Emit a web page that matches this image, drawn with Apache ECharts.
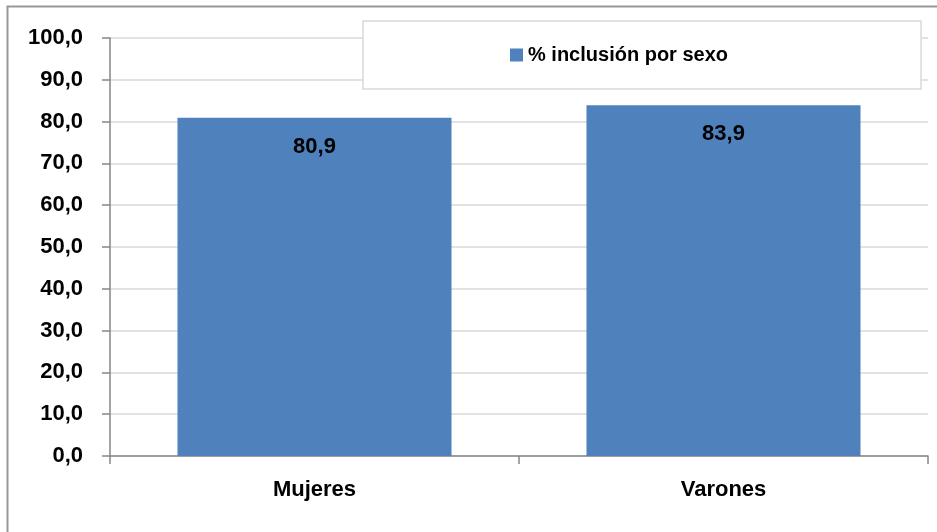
<!DOCTYPE html>
<html>
<head>
<meta charset="utf-8">
<script src="https://cdn.jsdelivr.net/npm/echarts@6/dist/echarts.min.js"></script>
<style>html,body{margin:0;padding:0;background:#fff}#c{width:937px;height:532px}</style>
</head>
<body>
<div id="c"></div>
<script>
var categories = ['Mujeres', 'Varones'];
var seriesName = '% inclusión por sexo';
var values = [80.9, 83.9];
var yMin = 0, yMax = 100, yStep = 10;

function fmt(v){ return Number(v).toFixed(1).replace('.', ','); }

var chart = echarts.init(document.getElementById('c'), null, {renderer:'canvas'});
var FONT = '"Liberation Sans", Arial, sans-serif';
chart.setOption({
  animation: false,
  backgroundColor: '#fff',
  graphic: [{
    type: 'rect', left: 5, top: 4, silent: true,
    shape: {x: 0, y: 0, width: 1000, height: 1000},
    style: {fill: 'none', stroke: '#979797', lineWidth: 2}
  }],
  grid: {left: 110, right: 9, top: 38, bottom: 76, containLabel: false},
  legend: {
    left: 363, top: 21,
    padding: [24, 193, 24, 147],
    borderColor: '#d9d9d9', borderWidth: 1.5, backgroundColor: '#fff',
    itemWidth: 13, itemHeight: 13, icon: 'rect',
    textStyle: {fontFamily: FONT, fontWeight: 'bold', fontSize: 20, color: '#000'},
    data: [seriesName]
  },
  xAxis: {
    type: 'category', data: categories,
    axisLine: {lineStyle: {color: '#868686', width: 1.5}},
    axisTick: {show: true, length: 8, lineStyle: {color: '#868686', width: 1.5}},
    axisLabel: {fontFamily: FONT, fontWeight: 'bold', fontSize: 22, color: '#000', margin: 23}
  },
  yAxis: {
    type: 'value', min: yMin, max: yMax, interval: yStep,
    axisLine: {show: true, lineStyle: {color: '#868686', width: 1.5}},
    axisTick: {show: true, length: 8, lineStyle: {color: '#868686', width: 1.5}},
    splitLine: {lineStyle: {color: '#d9d9d9', width: 1.5}},
    axisLabel: {fontFamily: FONT, fontWeight: 'bold', fontSize: 22, color: '#000', margin: 27, formatter: fmt}
  },
  series: [{
    type: 'bar', name: seriesName, data: values,
    barCategoryGap: '33%',
    itemStyle: {color: '#4F81BD'},
    label: {show: true, position: 'insideTop', distance: 18,
      fontFamily: FONT, fontWeight: 'bold', fontSize: 22, color: '#000',
      formatter: function(p){ return fmt(p.value); }}
  }]
});
</script>
</body>
</html>
